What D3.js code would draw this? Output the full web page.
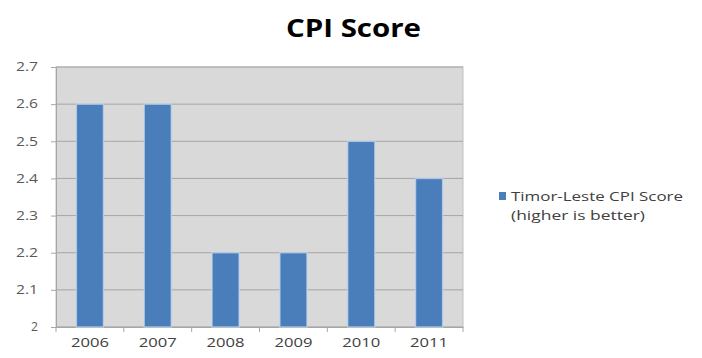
<!DOCTYPE html>
<html><head><meta charset="utf-8">
<script src="https://cdn.jsdelivr.net/npm/d3@7"></script>
<style>body{margin:0;background:#fff;}svg{display:block;font-family:"Open Sans","Liberation Sans",sans-serif;}</style>
</head><body>
<svg id="c" width="702" height="358"></svg>
<script>
const years = ["2006","2007","2008","2009","2010","2011"];
const scores = [2.6, 2.6, 2.2, 2.2, 2.5, 2.4];
const yTicks = [2, 2.1, 2.2, 2.3, 2.4, 2.5, 2.6, 2.7];
const title = "CPI Score";
const legendLines = ["Timor-Leste CPI Score", "(higher is better)"];

const svg = d3.select("#c");
const L = 56, R = 463, T = 67, B = 327;
const x = d3.scaleBand().domain(years).range([L, R]).paddingInner(0.6).paddingOuter(0.3);
const y = d3.scaleLinear().domain([2, 2.7]).range([B, T]);

svg.append("rect").attr("x", L).attr("y", T).attr("width", R - L).attr("height", B - T)
  .attr("fill", "#d9d9d9").attr("stroke", "#bfbfbf");

svg.append("g").selectAll("line").data(yTicks).join("line")
  .attr("x1", L).attr("x2", R).attr("y1", d => y(d)).attr("y2", d => y(d))
  .attr("stroke", "#a6a6a6").attr("stroke-width", 1);

const fmt = d3.format("~g");
const yAxis = svg.append("g").attr("transform", `translate(${L},0)`)
  .call(d3.axisLeft(y).tickValues(yTicks).tickFormat(fmt).tickSize(5).tickPadding(13));
yAxis.select(".domain").attr("stroke", "#a6a6a6");
yAxis.selectAll(".tick line").attr("stroke", "#a6a6a6");
yAxis.selectAll("text").attr("font-size", 12).attr("fill", "#595959").attr("font-family", "'Open Sans','Liberation Sans',sans-serif")
  .attr("textLength", d => fmt(d).length > 1 ? 22 : 7).attr("lengthAdjust", "spacingAndGlyphs");

const xb = d3.scaleBand().domain(years).range([L, R]);
const xAxis = svg.append("g").attr("transform", `translate(0,${B})`)
  .call(d3.axisBottom(xb).tickSize(0).tickPadding(11));
xAxis.select(".domain").attr("stroke", "#a6a6a6");
xAxis.selectAll("text").attr("font-size", 12).attr("fill", "#404040").attr("font-family", "'Open Sans','Liberation Sans',sans-serif")
  .attr("textLength", 38).attr("lengthAdjust", "spacingAndGlyphs");
svg.append("g").selectAll("line").data(d3.range(years.length + 1)).join("line")
  .attr("x1", i => L + i * xb.step()).attr("x2", i => L + i * xb.step())
  .attr("y1", B).attr("y2", B + 5).attr("stroke", "#a6a6a6");

svg.append("g").selectAll("rect").data(years).join("rect")
  .attr("x", (d) => x(d)).attr("width", x.bandwidth())
  .attr("y", (d, i) => y(scores[i])).attr("height", (d, i) => B - y(scores[i]))
  .attr("fill", "#4a7ebb").attr("stroke", "#c6d9f1").attr("stroke-width", 1.5).attr("stroke-opacity", 0.7);

svg.append("text").attr("x", 286).attr("y", 37)
  .attr("font-size", 25).attr("font-weight", "bold").attr("fill", "#000")
  .attr("textLength", 135).attr("lengthAdjust", "spacingAndGlyphs").text(title);

svg.append("rect").attr("x", 499).attr("y", 192).attr("width", 7).attr("height", 8).attr("fill", "#4a7ebb");
svg.append("g").selectAll("text").data(legendLines).join("text")
  .attr("x", 511).attr("y", (d, i) => 201 + i * 19)
  .attr("font-size", 12.5).attr("fill", "#404040")
  .attr("textLength", (d, i) => i === 0 ? 172 : 134).attr("lengthAdjust", "spacingAndGlyphs")
  .text(d => d);
</script>
</body></html>
